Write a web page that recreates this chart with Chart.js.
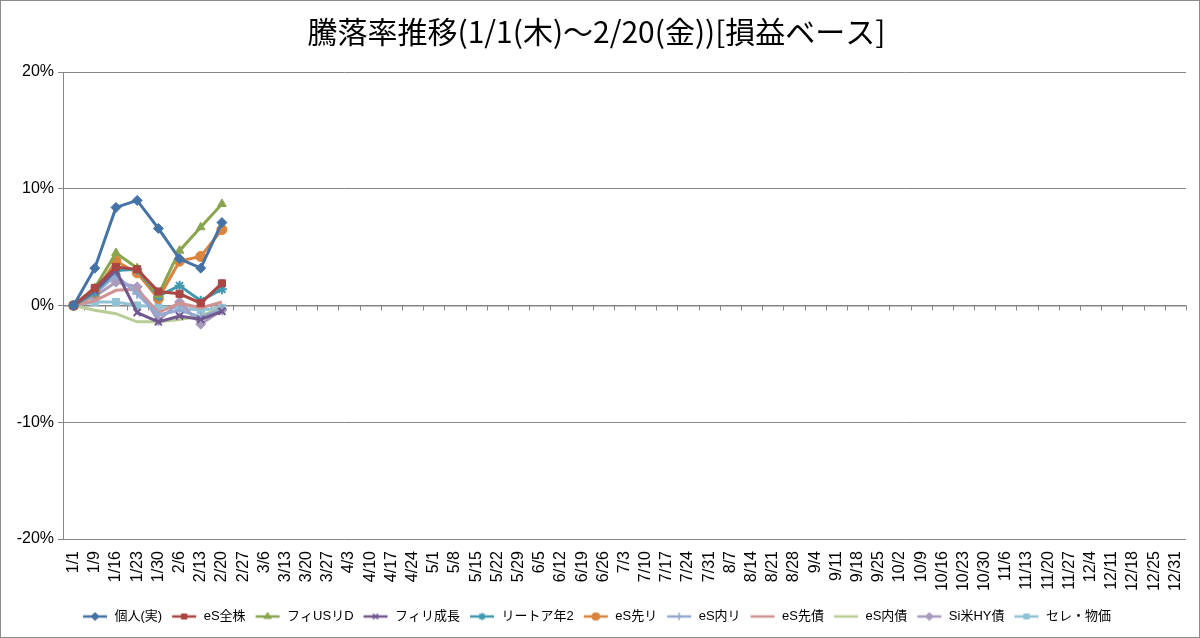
<!DOCTYPE html>
<html lang="ja">
<head>
<meta charset="utf-8">
<title>騰落率推移</title>
<script src="https://cdn.jsdelivr.net/npm/chart.js@4.4.1/dist/chart.umd.min.js"></script>
<style>
    html, body { margin: 0; padding: 0; background: #fff; }
    #wrap {
        position: absolute; left: 0; top: 0;
        width: 1200px; height: 638px;
        box-sizing: border-box;
        border: 1px solid #8c8c8c;
        background: #fff;
    }
    #chart { display: block; }
</style>
</head>
<body>
<div id="wrap"><canvas id="chart" width="1198" height="636"></canvas></div>
<script>
// 週次の日付ラベル (1/1 〜 12/31)
const weekLabels = [
    '1/1', '1/9', '1/16', '1/23', '1/30', '2/6', '2/13', '2/20', '2/27',
    '3/6', '3/13', '3/20', '3/27', '4/3', '4/10', '4/17', '4/24',
    '5/1', '5/8', '5/15', '5/22', '5/29', '6/5', '6/12', '6/19', '6/26',
    '7/3', '7/10', '7/17', '7/24', '7/31', '8/7', '8/14', '8/21', '8/28',
    '9/4', '9/11', '9/18', '9/25', '10/2', '10/9', '10/16', '10/23', '10/30',
    '11/6', '11/13', '11/20', '11/27', '12/4', '12/11', '12/18', '12/25', '12/31'
];

// 系列名
const seriesNames = [
    '個人(実)', 'eS全株', 'フィUSリD', 'フィリ成長', 'リートア年2', 'eS先リ',
    'eS内リ', 'eS先債', 'eS内債', 'Si米HY債', 'セレ・物価'
];

// 騰落率 (%), 1/1〜2/20 のみ
const kojin     = [0, 3.2, 8.4, 9.0, 6.6, 4.0, 3.2, 7.1];
const esZenkabu = [0, 1.5, 3.3, 3.1, 1.2, 1.0, 0.2, 1.9];
const fiUsReit  = [0, 1.5, 4.5, 3.2, 0.9, 4.7, 6.7, 8.7];
const fiSeicho  = [0, 1.3, 3.0, -0.6, -1.4, -0.9, -1.2, -0.5];
const reitA2    = [0, 1.1, 3.0, 3.1, 0.8, 1.7, 0.4, 1.4];
const esSakiR   = [0, 1.1, 3.8, 2.8, 0.6, 3.8, 4.2, 6.5];
const esUchiR   = [0, 1.0, 2.6, 1.0, -0.8, -0.4, -1.0, -0.3];
const esSakiSai = [0, 0.4, 1.3, 1.4, -0.6, 0.2, -0.2, 0.3];
const esUchiSai = [0, -0.4, -0.7, -1.4, -1.4, -1.2, -0.9, -0.2];
const siHy      = [0, 0.8, 2.0, 1.6, -1.3, 0.3, -1.6, -0.4];
const seleBukka = [0, 0.3, 0.3, 0.0, -0.1, -0.2, -0.4, -0.2];

const seriesValues = [kojin, esZenkabu, fiUsReit, fiSeicho, reitA2, esSakiR,
    esUchiR, esSakiSai, esUchiSai, siHy, seleBukka];

const seriesColors = ['#4572A7', '#AA4643', '#89A54E', '#71588F', '#4198AF', '#DB843D',
    '#93A9CF', '#D19392', '#B9CD96', '#A99BBD', '#91C3D5'];
const seriesMarkers = ['rectRot', 'rect', 'triangle', 'crossRot', 'star', 'circle',
    'cross', false, false, 'rectRot', 'rect'];

const yTicks = [-20, -10, 0, 10, 20];

const FONT = '"Liberation Sans", "Noto Sans CJK JP", sans-serif';

// 凡例用: 線 + マーカーの小さな画像
function legendIcon(color, marker) {
    const c = document.createElement('canvas');
    c.width = 26; c.height = 10;
    const ctx = c.getContext('2d');
    ctx.strokeStyle = color;
    ctx.lineWidth = 2.5;
    ctx.beginPath();
    ctx.moveTo(1, 5);
    ctx.lineTo(25, 5);
    ctx.stroke();
    if (marker) {
        ctx.fillStyle = color;
        ctx.lineWidth = 1.2;
        Chart.helpers.drawPoint(ctx, { pointStyle: marker, radius: 3.5, rotation: 0, borderWidth: 1.2 }, 13, 5);
        ctx.fill();
        ctx.stroke();
    }
    return c;
}

const datasets = seriesNames.map((name, i) => ({
    label: name,
    data: seriesValues[i],
    borderColor: seriesColors[i],
    backgroundColor: seriesColors[i],
    borderWidth: 3,
    pointStyle: seriesMarkers[i] || 'circle',
    pointRadius: seriesMarkers[i] ? 5 : 0,
    pointBorderWidth: ['crossRot', 'star', 'cross'].includes(seriesMarkers[i]) ? 2 : 1,
    pointBorderColor: seriesColors[i],
    pointBackgroundColor: seriesColors[i],
    tension: 0,
    fill: false
}));

// x軸 (0% の位置) と目盛り
const zeroAxisPlugin = {
    id: 'zeroAxis',
    beforeDatasetsDraw(chart) {
        const { ctx, scales: { x, y }, chartArea } = chart;
        const y0 = y.getPixelForValue(0);
        ctx.save();
        ctx.strokeStyle = '#868686';
        ctx.lineWidth = 1;
        ctx.beginPath();
        ctx.moveTo(chartArea.left, y0 + 0.5);
        ctx.lineTo(chartArea.right, y0 + 0.5);
        const step = (x.getPixelForValue(1) - x.getPixelForValue(0));
        for (let i = 0; i <= weekLabels.length; i++) {
            const px = Math.round(x.getPixelForValue(i) - step / 2) + 0.5;
            ctx.moveTo(px, y0);
            ctx.lineTo(px, y0 + 5);
        }
        ctx.stroke();
        ctx.restore();
    }
};

const ctx = document.getElementById('chart').getContext('2d');
new Chart(ctx, {
    type: 'line',
    data: { labels: weekLabels, datasets: datasets },
    options: {
        responsive: false,
        animation: false,
        layout: { padding: { left: 6, right: 13, top: 0, bottom: 4 } },
        plugins: {
            title: {
                display: true,
                text: '騰落率推移(1/1(木)～2/20(金))[損益ベース]',
                color: '#000',
                font: { family: '"Noto Sans CJK JP", sans-serif', size: 30, weight: 'normal' },
                padding: { top: 13, bottom: 22 }
            },
            legend: {
                position: 'bottom',
                labels: {
                    color: '#000',
                    font: { family: FONT, size: 13 },
                    usePointStyle: true,
                    pointStyleWidth: 26,
                    boxHeight: 10,
                    padding: 9,
                    generateLabels(chart) {
                        return chart.data.datasets.map((ds, i) => ({
                            text: ds.label,
                            pointStyle: legendIcon(seriesColors[i], seriesMarkers[i]),
                            fillStyle: seriesColors[i],
                            strokeStyle: seriesColors[i],
                            lineWidth: 0,
                            hidden: false,
                            datasetIndex: i
                        }));
                    }
                }
            },
            tooltip: { enabled: false }
        },
        scales: {
            x: {
                offset: true,
                grid: { display: false },
                border: { display: false },
                ticks: {
                    autoSkip: false,
                    maxRotation: 90,
                    minRotation: 90,
                    color: '#000',
                    padding: 4,
                    font: { family: FONT, size: 16 }
                },
                afterFit(scale) { scale.height = 62; }
            },
            y: {
                min: -20,
                max: 20,
                afterBuildTicks(scale) {
                    scale.ticks = yTicks.map(v => ({ value: v }));
                },
                grid: {
                    color: '#868686',
                    lineWidth: 1,
                    drawTicks: true,
                    tickLength: 5,
                    tickColor: '#868686'
                },
                border: { display: true, color: '#868686' },
                ticks: {
                    color: '#000',
                    padding: 4,
                    font: { family: FONT, size: 16 },
                    callback: v => v + '%'
                },
                afterFit(scale) { scale.width = 56; }
            }
        }
    },
    plugins: [zeroAxisPlugin]
});
</script>
</body>
</html>
